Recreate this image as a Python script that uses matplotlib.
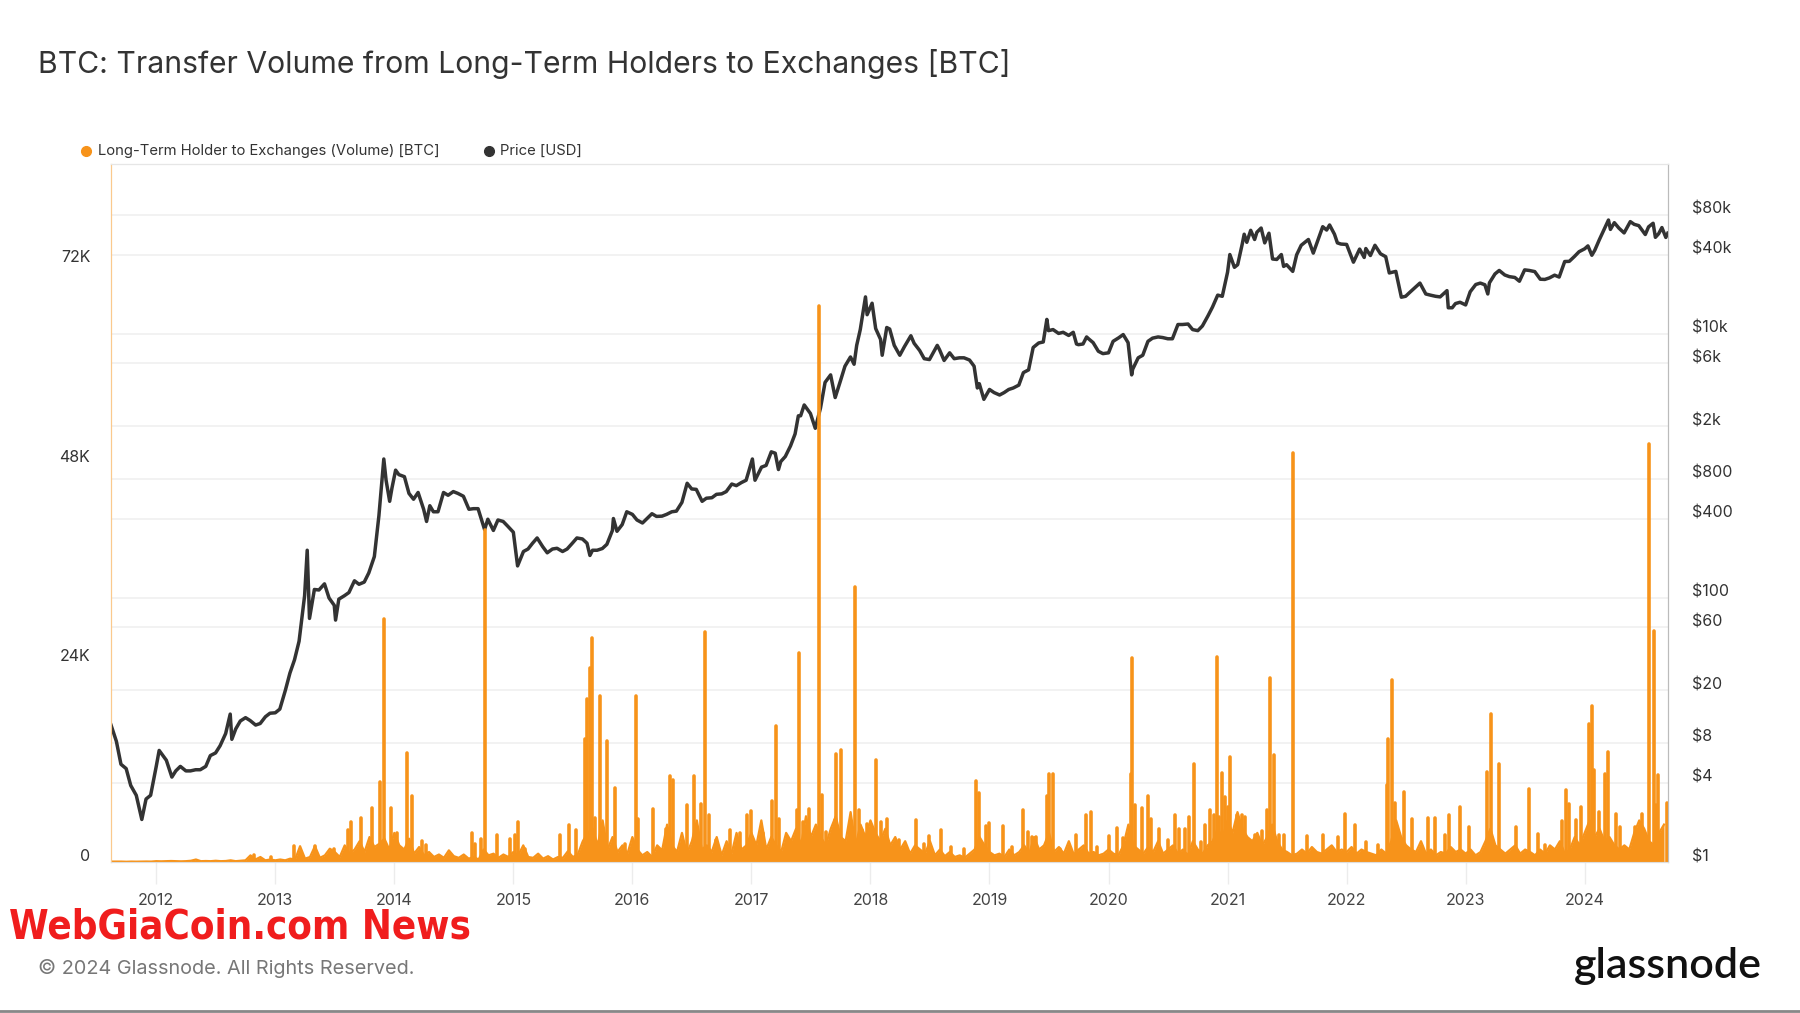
import os
import matplotlib.pyplot as plt
import matplotlib.transforms as mtransforms
from matplotlib import font_manager
from matplotlib.lines import Line2D
import numpy as np
import pandas as pd

plt.rcParams['font.family'] = ['Inter', 'DejaVu Sans']

ORANGE = '#f7931a'
DARK = '#333333'

# --- BTC price (USD) -----------------------------------------------------
price_dates = [
    '2011-08-01', '2011-08-15', '2011-09-01', '2011-09-15', '2011-10-01', '2011-10-15', '2011-11-01', '2011-11-18',
    '2011-12-01', '2011-12-15', '2012-01-01', '2012-01-10', '2012-02-01', '2012-02-18', '2012-03-01', '2012-03-15',
    '2012-04-01', '2012-04-15', '2012-05-01', '2012-05-15', '2012-06-01', '2012-06-15', '2012-07-01', '2012-07-15',
    '2012-08-01', '2012-08-15', '2012-08-20', '2012-09-01', '2012-09-15', '2012-10-01', '2012-10-15', '2012-11-01',
    '2012-11-15', '2012-12-01', '2012-12-15', '2013-01-01', '2013-01-15', '2013-02-01', '2013-02-15', '2013-03-01',
    '2013-03-15', '2013-04-01', '2013-04-09', '2013-04-16', '2013-05-01', '2013-05-15', '2013-06-01', '2013-06-15',
    '2013-07-01', '2013-07-05', '2013-07-15', '2013-08-01', '2013-08-15', '2013-09-01', '2013-09-15', '2013-10-01',
    '2013-10-15', '2013-11-01', '2013-11-15', '2013-11-30', '2013-12-07', '2013-12-18', '2013-12-25', '2014-01-05',
    '2014-01-15', '2014-02-01', '2014-02-15', '2014-03-01', '2014-03-15', '2014-04-01', '2014-04-10', '2014-04-20',
    '2014-05-01', '2014-05-15', '2014-06-01', '2014-06-15', '2014-07-01', '2014-07-15', '2014-08-01', '2014-08-18',
    '2014-09-01', '2014-09-15', '2014-10-05', '2014-10-15', '2014-11-01', '2014-11-15', '2014-12-01', '2014-12-15',
    '2015-01-01', '2015-01-14', '2015-02-01', '2015-02-15', '2015-03-01', '2015-03-15', '2015-04-01', '2015-04-15',
    '2015-05-01', '2015-05-15', '2015-06-01', '2015-06-15', '2015-07-01', '2015-07-15', '2015-08-01', '2015-08-15',
    '2015-08-24', '2015-09-01', '2015-09-15', '2015-10-01', '2015-10-15', '2015-11-01', '2015-11-04', '2015-11-15',
    '2015-12-01', '2015-12-15', '2016-01-01', '2016-01-15', '2016-02-01', '2016-02-15', '2016-03-01', '2016-03-15',
    '2016-04-01', '2016-04-15', '2016-05-01', '2016-05-15', '2016-06-01', '2016-06-17', '2016-07-01', '2016-07-15',
    '2016-08-02', '2016-08-15', '2016-09-01', '2016-09-15', '2016-10-01', '2016-10-15', '2016-11-01', '2016-11-15',
    '2016-12-01', '2016-12-15', '2017-01-04', '2017-01-12', '2017-02-01', '2017-02-15', '2017-03-03', '2017-03-15',
    '2017-03-25', '2017-04-01', '2017-04-15', '2017-05-01', '2017-05-15', '2017-05-25', '2017-06-01', '2017-06-12',
    '2017-07-01', '2017-07-16', '2017-08-01', '2017-08-15', '2017-09-01', '2017-09-15', '2017-10-01', '2017-10-15',
    '2017-11-01', '2017-11-12', '2017-11-20', '2017-12-01', '2017-12-17', '2017-12-22', '2018-01-06', '2018-01-17',
    '2018-02-01', '2018-02-06', '2018-02-20', '2018-03-01', '2018-03-15', '2018-04-01', '2018-04-15', '2018-05-05',
    '2018-05-15', '2018-06-01', '2018-06-15', '2018-07-01', '2018-07-25', '2018-08-01', '2018-08-15', '2018-09-01',
    '2018-09-15', '2018-10-01', '2018-10-15', '2018-11-01', '2018-11-15', '2018-11-25', '2018-12-01', '2018-12-15',
    '2019-01-01', '2019-01-15', '2019-02-01', '2019-02-15', '2019-03-01', '2019-03-15', '2019-04-01', '2019-04-15',
    '2019-05-01', '2019-05-15', '2019-06-01', '2019-06-15', '2019-06-26', '2019-07-01', '2019-07-15', '2019-08-01',
    '2019-08-15', '2019-09-01', '2019-09-15', '2019-09-25', '2019-10-01', '2019-10-15', '2019-10-26', '2019-11-01',
    '2019-11-15', '2019-12-01', '2019-12-15', '2020-01-01', '2020-01-15', '2020-02-01', '2020-02-15', '2020-03-01',
    '2020-03-12', '2020-03-15', '2020-04-01', '2020-04-15', '2020-05-01', '2020-05-15', '2020-06-01', '2020-06-15',
    '2020-07-01', '2020-07-15', '2020-08-01', '2020-08-15', '2020-09-01', '2020-09-15', '2020-10-01', '2020-10-15',
    '2020-11-01', '2020-11-15', '2020-12-01', '2020-12-15', '2021-01-01', '2021-01-08', '2021-01-22', '2021-02-01',
    '2021-02-15', '2021-02-21', '2021-03-01', '2021-03-13', '2021-03-25', '2021-04-01', '2021-04-14', '2021-04-25',
    '2021-05-08', '2021-05-19', '2021-06-01', '2021-06-15', '2021-06-22', '2021-07-01', '2021-07-20', '2021-08-01',
    '2021-08-15', '2021-09-06', '2021-09-21', '2021-10-01', '2021-10-20', '2021-11-01', '2021-11-10', '2021-11-25',
    '2021-12-04', '2021-12-15', '2022-01-01', '2022-01-22', '2022-02-10', '2022-02-24', '2022-03-01', '2022-03-15',
    '2022-03-29', '2022-04-15', '2022-05-01', '2022-05-12', '2022-06-01', '2022-06-18', '2022-07-01', '2022-07-15',
    '2022-08-14', '2022-09-01', '2022-09-15', '2022-10-01', '2022-10-15', '2022-11-05', '2022-11-09', '2022-11-21',
    '2022-12-01', '2022-12-15', '2023-01-01', '2023-01-15', '2023-02-01', '2023-02-15', '2023-03-01', '2023-03-10',
    '2023-03-15', '2023-04-01', '2023-04-14', '2023-05-01', '2023-05-15', '2023-06-01', '2023-06-15', '2023-07-01',
    '2023-07-15', '2023-08-01', '2023-08-18', '2023-09-01', '2023-09-15', '2023-10-01', '2023-10-15', '2023-11-01',
    '2023-11-15', '2023-12-01', '2023-12-15', '2024-01-01', '2024-01-11', '2024-01-23', '2024-02-01', '2024-02-15',
    '2024-03-01', '2024-03-14', '2024-03-20', '2024-04-01', '2024-04-15', '2024-05-01', '2024-05-20', '2024-06-01',
    '2024-06-15', '2024-07-05', '2024-07-15', '2024-07-29', '2024-08-05', '2024-08-15', '2024-08-25', '2024-09-06',
    '2024-09-12',
]
price_usd = [
    13.5, 11.0, 8.2, 5.5, 5.1, 3.8, 3.2, 2.1,
    3.0, 3.2, 5.3, 7.0, 5.9, 4.4, 4.9, 5.3,
    4.9, 4.9, 5.0, 5.0, 5.3, 6.4, 6.7, 7.6,
    9.4, 13.2, 8.5, 10.2, 11.7, 12.4, 11.8, 10.9,
    11.2, 12.6, 13.4, 13.5, 14.4, 20.0, 27.0, 34.0,
    47.0, 104, 230, 70, 116, 115, 128, 100,
    88, 68, 98, 104, 110, 135, 127, 132,
    155, 206, 420, 1130, 780, 540, 680, 930,
    860, 830, 620, 560, 630, 470, 380, 500,
    450, 450, 630, 600, 640, 620, 590, 470,
    475, 475, 330, 395, 325, 390, 380, 350,
    315, 175, 225, 235, 260, 285, 245, 220,
    235, 238, 225, 235, 260, 285, 280, 260,
    210, 230, 230, 237, 255, 325, 400, 320,
    360, 450, 430, 390, 370, 400, 435, 415,
    417, 430, 450, 455, 530, 740, 670, 665,
    540, 570, 575, 610, 615, 640, 730, 710,
    750, 780, 1130, 780, 980, 1010, 1280, 1250,
    940, 1080, 1180, 1420, 1750, 2400, 2400, 2900,
    2500, 1930, 2750, 4300, 4900, 3300, 4400, 5700,
    6700, 5900, 8200, 10800, 19100, 14000, 17100, 11000,
    9100, 6900, 11200, 10900, 8200, 6900, 8000, 9700,
    8500, 7500, 6500, 6400, 8200, 7600, 6300, 7200,
    6500, 6600, 6600, 6350, 5700, 3900, 4200, 3200,
    3800, 3600, 3450, 3600, 3800, 3900, 4100, 5100,
    5350, 7900, 8550, 8700, 12900, 10600, 10800, 10100,
    10300, 9750, 10300, 8400, 8300, 8400, 9500, 9200,
    8600, 7400, 7100, 7200, 8800, 9350, 9900, 8600,
    4900, 5400, 6600, 6900, 8800, 9300, 9500, 9400,
    9200, 9200, 11800, 11800, 11900, 10800, 10600, 11500,
    13700, 16000, 19700, 19300, 29400, 40000, 32000, 33500,
    48000, 57000, 49500, 61000, 52000, 59000, 63500, 49000,
    58000, 37000, 36700, 40000, 32500, 33500, 29800, 39800,
    47000, 52000, 41000, 48000, 65000, 61300, 67000, 57000,
    49000, 48000, 47700, 35000, 44000, 38000, 44400, 39300,
    47000, 40500, 38500, 29000, 29800, 19000, 19300, 20800,
    24300, 20100, 19700, 19300, 19100, 21300, 15800, 15800,
    17000, 17400, 16600, 20900, 23700, 24300, 23600, 20100,
    24400, 28500, 30300, 28000, 27200, 26800, 25100, 30600,
    30300, 29700, 26000, 25900, 26600, 27900, 27000, 35400,
    35500, 38700, 42000, 44200, 46500, 39500, 43100, 51800,
    62400, 73000, 62000, 69700, 63400, 58300, 71000, 67700,
    66200, 56700, 64800, 69000, 54000, 57500, 64000, 53900,
    58000,
]

# --- LTH -> exchanges volume, thousands of BTC, two samples per month ----
vol_2011 = [0.05, 0.05, 0.04, 0.05, 0.03, 0.05, 0.04, 0.05, 0.06, 0.05]  # from Aug 2011
vol_2012 = [0.1, 0.08, 0.1, 0.12, 0.1, 0.08, 0.1, 0.15, 0.3, 0.1, 0.12, 0.1,
            0.15, 0.1, 0.12, 0.2, 0.1, 0.15, 0.2, 0.8, 0.3, 0.6, 0.2, 0.3]
vol_2013 = [0.2, 0.3, 0.2, 0.4, 0.3, 1.9, 0.4, 0.6, 1.9, 0.5, 0.8, 1.6,
            1.2, 0.6, 2.0, 1.0, 1.5, 2.5, 1.2, 3.0, 1.8, 2.2, 2.8, 1.5]
vol_2014 = [3.5, 2.0, 1.5, 2.8, 1.0, 1.8, 0.8, 1.2, 0.6, 0.9, 0.5, 1.4,
            0.7, 0.5, 0.9, 0.4, 0.6, 0.3, 1.5, 0.8, 1.0, 0.5, 0.9, 0.6]
vol_2015 = [1.2, 0.8, 2.0, 0.6, 0.5, 1.0, 0.4, 0.7, 0.3, 0.6, 0.5, 1.3,
            0.6, 0.9, 2.5, 3.5, 4.0, 2.0, 5.0, 1.5, 3.0, 1.2, 2.0, 1.0]
vol_2016 = [3.0, 1.5, 0.8, 1.2, 0.6, 2.0, 1.4, 4.5, 2.0, 1.2, 3.5, 1.0,
            2.5, 5.0, 1.5, 2.0, 1.2, 3.0, 0.8, 2.5, 1.0, 3.5, 1.5, 2.0]
vol_2017 = [3.5, 2.0, 5.0, 1.5, 3.0, 2.0, 1.2, 3.5, 2.5, 4.0, 2.0, 5.5,
            3.0, 4.5, 3.0, 2.0, 4.0, 5.5, 3.0, 2.5, 6.0, 2.0, 4.5, 3.0]
vol_2018 = [5.0, 3.5, 2.5, 4.0, 2.0, 3.0, 1.5, 2.5, 1.0, 2.0, 1.5, 1.0,
            2.5, 0.8, 1.5, 0.7, 1.2, 0.6, 0.8, 0.5, 1.0, 1.5, 3.0, 2.0]
vol_2019 = [1.2, 0.8, 1.0, 0.6, 1.5, 0.8, 1.2, 2.0, 1.0, 3.0, 1.5, 2.0,
            3.5, 1.2, 1.8, 1.0, 2.5, 0.9, 1.5, 2.0, 1.0, 1.2, 0.8, 1.0]
vol_2020 = [1.5, 1.0, 0.8, 2.0, 4.5, 2.0, 1.5, 1.0, 1.8, 1.2, 2.5, 1.0,
            1.5, 2.0, 1.0, 1.5, 0.8, 2.5, 1.5, 1.0, 2.0, 2.5, 4.0, 3.0]
vol_2021 = [5.0, 3.5, 6.0, 4.0, 3.0, 2.5, 3.5, 2.0, 3.0, 4.5, 2.5, 1.5,
            1.2, 0.8, 1.0, 1.5, 1.0, 1.8, 1.2, 1.0, 1.5, 2.0, 1.2, 1.5]
vol_2022 = [1.2, 1.8, 1.0, 1.5, 1.2, 1.0, 0.8, 1.5, 1.0, 2.5, 5.0, 3.0,
            2.0, 1.5, 1.2, 2.5, 1.0, 1.5, 0.8, 1.2, 1.0, 1.8, 1.2, 1.5]
vol_2023 = [1.0, 1.5, 0.8, 1.2, 2.5, 4.0, 2.0, 1.5, 1.0, 1.5, 2.0, 1.0,
            1.5, 1.2, 0.8, 1.5, 1.0, 2.0, 1.5, 2.5, 1.0, 1.5, 3.0, 2.0]
vol_2024 = [3.5, 5.0, 3.0, 4.0, 2.5, 3.0, 2.0, 1.5, 2.0, 1.5, 3.5, 5.0,
            4.0, 2.5, 2.0, 3.5, 4.5]

# single-day spikes (decimal year, thousands of BTC)
spike_year = [
    2012.82, 2012.96, 2013.16, 2013.33, 2013.49, 2013.61, 2013.64, 2013.72, 2013.81, 2013.88,
    2013.91, 2013.97, 2014.02, 2014.11, 2014.15, 2014.23, 2014.27, 2014.65, 2014.68, 2014.73,
    2014.76, 2014.86, 2014.97, 2015.01, 2015.04, 2015.10, 2015.39, 2015.47, 2015.53, 2015.60,
    2015.62, 2015.64, 2015.66, 2015.69, 2015.73, 2015.79, 2015.85, 2015.94, 2016.03, 2016.05,
    2016.17, 2016.28, 2016.32, 2016.34, 2016.46, 2016.52, 2016.58, 2016.61, 2016.64, 2016.70,
    2016.82, 2016.90, 2016.96, 2017.00, 2017.10, 2017.17, 2017.21, 2017.23, 2017.38, 2017.40,
    2017.43, 2017.48, 2017.54, 2017.57, 2017.59, 2017.63, 2017.70, 2017.71, 2017.75, 2017.79,
    2017.83, 2017.87, 2017.90, 2017.93, 2017.97, 2018.02, 2018.05, 2018.09, 2018.14, 2018.21,
    2018.24, 2018.38, 2018.45, 2018.49, 2018.59, 2018.68, 2018.79, 2018.89, 2018.91, 2018.97,
    2019.00, 2019.11, 2019.19, 2019.28, 2019.32, 2019.36, 2019.39, 2019.48, 2019.50, 2019.53,
    2019.59, 2019.73, 2019.81, 2019.85, 2019.90, 2020.00, 2020.07, 2020.12, 2020.17, 2020.19,
    2020.20, 2020.22, 2020.28, 2020.33, 2020.36, 2020.42, 2020.50, 2020.56, 2020.59, 2020.64,
    2020.68, 2020.72, 2020.78, 2020.81, 2020.85, 2020.89, 2020.91, 2020.93, 2020.95, 2020.98,
    2021.00, 2021.02, 2021.08, 2021.12, 2021.15, 2021.23, 2021.29, 2021.33, 2021.36, 2021.39,
    2021.43, 2021.47, 2021.55, 2021.67, 2021.80, 2021.93, 2021.99, 2022.07, 2022.16, 2022.26,
    2022.34, 2022.35, 2022.38, 2022.41, 2022.48, 2022.55, 2022.68, 2022.74, 2022.83, 2022.86,
    2022.95, 2023.03, 2023.18, 2023.21, 2023.28, 2023.42, 2023.53, 2023.61, 2023.67, 2023.81,
    2023.84, 2023.87, 2023.93, 2023.97, 2024.04, 2024.06, 2024.08, 2024.12, 2024.17, 2024.20,
    2024.26, 2024.30, 2024.42, 2024.48, 2024.54, 2024.58, 2024.60, 2024.62, 2024.69,
]
spike_kbtc = [
    0.8, 0.6, 1.9, 1.9, 1.6, 3.8, 4.8, 5.3, 6.5, 9.6,
    29.2, 6.5, 3.5, 13.1, 7.9, 2.5, 2.0, 3.5, 2.2, 2.8,
    39.9, 3.2, 2.8, 3.3, 4.8, 1.6, 3.3, 4.4, 3.9, 14.8,
    19.6, 23.3, 26.9, 5.3, 19.9, 14.5, 8.9, 2.2, 19.9, 5.2,
    6.4, 4.0, 10.3, 9.8, 6.9, 10.3, 7.0, 27.6, 5.6, 2.6,
    3.9, 3.5, 5.6, 6.1, 3.5, 7.3, 16.3, 5.2, 6.2, 25.1,
    4.8, 6.4, 3.5, 66.8, 8.0, 3.6, 5.0, 13.0, 13.5, 2.4,
    4.7, 33.1, 6.3, 3.8, 4.6, 4.0, 12.3, 4.8, 5.2, 1.8,
    2.6, 5.0, 2.2, 3.1, 3.8, 1.8, 1.6, 9.7, 8.3, 4.3,
    4.7, 4.3, 1.8, 6.2, 3.6, 3.0, 3.0, 7.9, 10.6, 10.6,
    1.6, 3.3, 5.6, 6.0, 1.8, 3.1, 4.1, 2.9, 2.7, 10.6,
    24.5, 6.8, 6.5, 7.9, 5.2, 4.0, 2.6, 5.6, 4.0, 4.0,
    5.4, 11.8, 2.4, 4.4, 6.2, 5.6, 24.6, 5.4, 10.7, 7.8,
    6.6, 12.6, 5.6, 5.6, 5.4, 3.3, 3.7, 6.2, 22.1, 12.9,
    3.3, 3.3, 49.2, 3.1, 3.3, 3.0, 5.8, 4.5, 2.4, 2.0,
    9.3, 14.8, 21.9, 7.1, 8.4, 5.2, 5.3, 5.3, 3.3, 5.6,
    6.6, 4.2, 10.8, 17.8, 11.8, 4.2, 8.8, 3.4, 2.0, 4.9,
    8.6, 7.0, 5.0, 6.6, 16.6, 18.8, 11.0, 6.0, 10.6, 13.2,
    5.8, 4.2, 4.2, 5.8, 50.3, 27.8, 6.8, 10.5, 7.1,
]

year_ticks = list(range(2012, 2025))
vol_ticks = [0, 24000, 48000, 72000]
vol_labels = ['0', '24K', '48K', '72K']
price_ticks = [1, 4, 8, 20, 60, 100, 400, 800, 2000, 6000, 10000, 40000, 80000]
price_labels = ['$1', '$4', '$8', '$20', '$60', '$100', '$400', '$800',
                '$2k', '$6k', '$10k', '$40k', '$80k']

# decimal-year x values
pd_dates = pd.to_datetime(price_dates)
price_x = pd_dates.year + (pd_dates.dayofyear - 1) / 365.25

base_x, base_y = [], []
for yr, vals in [(2011, vol_2011), (2012, vol_2012), (2013, vol_2013), (2014, vol_2014),
                 (2015, vol_2015), (2016, vol_2016), (2017, vol_2017), (2018, vol_2018),
                 (2019, vol_2019), (2020, vol_2020), (2021, vol_2021), (2022, vol_2022),
                 (2023, vol_2023), (2024, vol_2024)]:
    start = 14 if yr == 2011 else 0
    for i, v in enumerate(vals):
        base_x.append(yr + (start + i) / 24)
        base_y.append(v * 1000)
base_x = np.array(base_x)
base_y = np.array(base_y)


def condensed_bold():
    """pick a narrow heavy face for the red watermark, if one is installed"""
    wanted = ['NotoSans-ExtraCondensedBlack', 'NotoSans-ExtraCondensedExtraBold',
              'NotoSans-ExtraCondensedBold', 'NotoSans-CondensedBlack', 'NotoSans-CondensedBold',
              'LiberationSansNarrow-Bold', 'DejaVuSansCondensed-Bold']
    files = [f.fname for f in font_manager.fontManager.ttflist]
    for w in wanted:
        for fn in files:
            if os.path.basename(fn).startswith(w + '.'):
                return font_manager.FontProperties(fname=fn)
    return font_manager.FontProperties(family='DejaVu Sans', weight='bold')


W, H = 1800, 1013
fig = plt.figure(figsize=(W / 100, H / 100), dpi=100)
L, R, T, B = 111, 1668, 164, 862
ax = fig.add_axes([L / W, 1 - B / H, (R - L) / W, (B - T) / H])  # price (log, right)
ax2 = ax.twinx()                                                    # volume (left)

# price
ax.plot(price_x, price_usd, color=DARK, lw=2.5, solid_joinstyle='round', zorder=3)
ax.set_yscale('log')
ax.set_ylim(1, 194000)
ax.yaxis.tick_right()
ax.set_yticks(price_ticks)
ax.set_yticklabels(price_labels)
ax.yaxis.set_minor_locator(plt.NullLocator())
ax.grid(axis='y', color='#f0f0f0', lw=1.2)
ax.set_axisbelow(True)

# volume
ax2.fill_between(base_x, 0, base_y, color=ORANGE, lw=0, zorder=2)
ax2.plot(base_x, base_y, color=ORANGE, lw=1.6, zorder=2)
ax2.vlines(spike_year, 0, np.array(spike_kbtc) * 1000, color=ORANGE, lw=2.6,
           capstyle='round', zorder=2)
ax2.set_ylim(0, 83900)
ax2.yaxis.tick_left()
ax2.set_yticks(vol_ticks)
ax2.set_yticklabels(vol_labels)

ax.set_xlim(2011.62, 2024.70)
ax.set_xticks(year_ticks)
ax.set_xticklabels([str(y) for y in year_ticks])

ax.tick_params(axis='x', length=16, width=1, color='#ececec', pad=6,
               labelsize=11.5, labelcolor='#444444')
ax.tick_params(axis='y', length=0, pad=17, labelsize=11.5, labelcolor='#333333')
ax2.tick_params(axis='y', length=0, pad=15, labelsize=11.5, labelcolor='#333333')

# labels sit a little above their gridline, as in the original
up = mtransforms.ScaledTranslation(0, 7 / 100, fig.dpi_scale_trans)
for lab in ax.get_yticklabels() + ax2.get_yticklabels():
    lab.set_transform(lab.get_transform() + up)

for a in (ax, ax2):
    a.spines['top'].set_color('#e6e6e6')
    a.spines['bottom'].set_color('#dddddd')
    a.spines['left'].set_color('#fbc98d')
    a.spines['right'].set_color('#bbbbbb')

# title, legend, footer
fig.text(38 / W, 1 - 64 / H, 'BTC: Transfer Volume from Long-Term Holders to Exchanges [BTC]',
         fontsize=21.7, color='#333333', va='center', ha='left')

ly = 1 - 151 / H
fig.add_artist(Line2D([86 / W], [ly], marker='o', color=ORANGE, markersize=7,
                      transform=fig.transFigure))
fig.text(98 / W, ly, 'Long-Term Holder to Exchanges (Volume) [BTC]',
         fontsize=10.7, color='#333333', va='center')
fig.add_artist(Line2D([489 / W], [ly], marker='o', color=DARK, markersize=7,
                      transform=fig.transFigure))
fig.text(500 / W, ly, 'Price [USD]', fontsize=10.7, color='#333333', va='center')

wm = fig.text(9 / W, 1 - 927 / H, 'WebGiaCoin.com News', fontproperties=condensed_bold(),
              fontsize=37, color='#f01d1d', va='center', ha='left')
# fit the watermark to its width in the original (about 463 px)
renderer = fig.canvas.get_renderer()
wm_w = wm.get_window_extent(renderer).width
wm.set_fontsize(37 * 463 / wm_w)

fig.text(38 / W, 1 - 968 / H, '© 2024 Glassnode. All Rights Reserved.', fontsize=14.3,
         color='#777777', va='center', ha='left')
fig.text(1762 / W, 1 - 966 / H, 'glassnode', fontsize=31, color='#111111',
         family=['Lato', 'DejaVu Sans'], fontweight='semibold', va='center', ha='right')

fig.add_artist(Line2D([0, 1], [1 - 1011 / H, 1 - 1011 / H], color='#888888', lw=2,
                      transform=fig.transFigure))

fig.savefig('out.png', dpi=100, facecolor='white')
